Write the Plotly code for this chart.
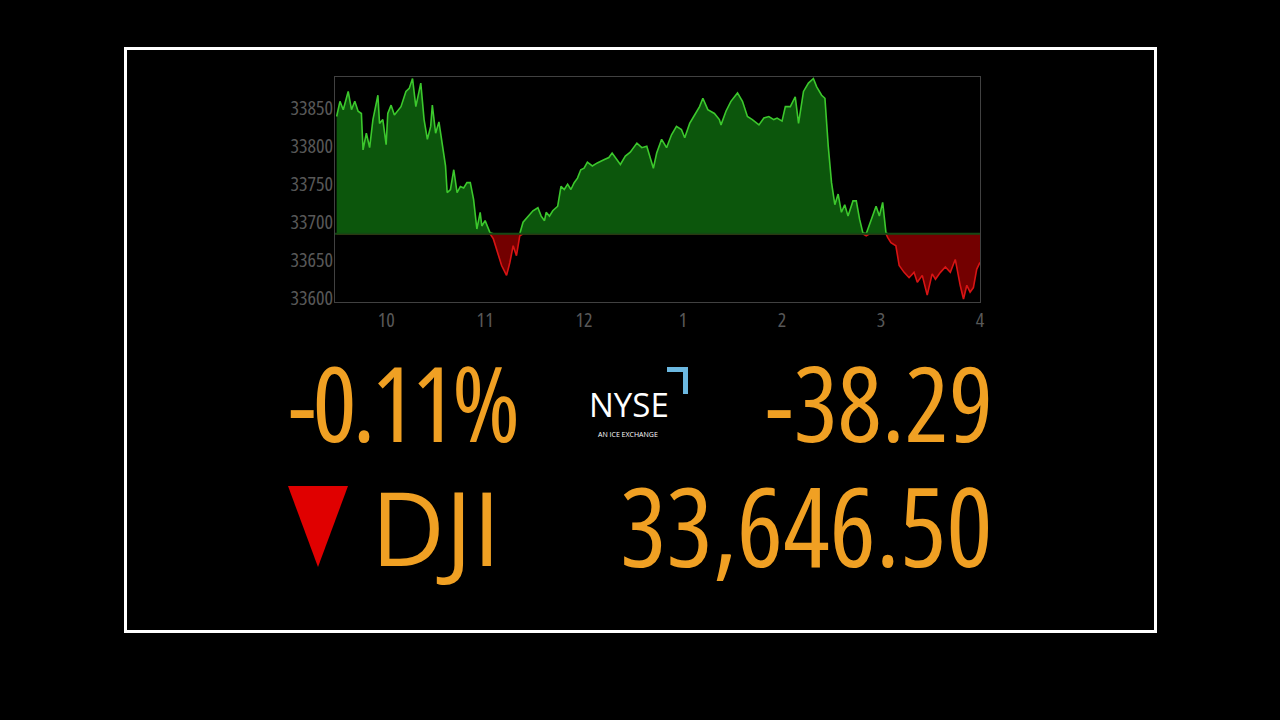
import numpy as np
import plotly.graph_objects as go

# ---- data ----
minutes = [0, 2, 4, 7, 9, 11, 13, 15, 16, 18, 20, 22, 25, 26, 28, 30, 31, 33, 35, 39, 42, 44, 46, 48, 51,
           53, 55, 57, 58, 60, 62, 64, 66, 67, 69, 71, 73, 75, 77, 79, 81, 83, 85, 87, 88, 90, 93, 95, 98,
           100, 103, 105, 107, 109, 111, 113, 116, 119, 122, 124, 126, 127, 129, 131, 134, 136, 138, 140,
           142, 144, 146, 148, 150, 152, 155, 158, 162, 165, 167, 169, 172, 175, 178,
           182, 185, 188, 190, 192, 194, 197, 200, 203, 206, 209, 211, 214, 217, 220, 222, 225, 229, 232,
           233, 236, 239, 243, 246, 249, 252, 256, 259, 262, 265, 267, 270, 272, 275, 278, 280, 283, 286,
           289, 291, 294, 296, 298, 300, 302, 304, 306, 308, 310, 313, 315, 317, 319, 321, 323, 325, 327,
           329, 331, 333, 334, 336, 339, 341, 344, 347, 350, 352, 355, 358, 361, 363, 366, 369, 372, 375,
           378, 380, 382, 384, 386, 388, 390]
dji = [33839, 33859, 33848, 33872, 33848, 33859, 33846, 33843, 33795, 33817, 33798, 33835, 33867, 33830,
       33835, 33802, 33843, 33854, 33841, 33852, 33872, 33876, 33889, 33852, 33883, 33835, 33809, 33826,
       33854, 33817, 33832, 33800, 33774, 33739, 33743, 33769, 33739, 33747, 33745, 33752, 33752, 33730,
       33691, 33713, 33695, 33702, 33686, 33678, 33656, 33643, 33630, 33647, 33669, 33656, 33682, 33700,
       33708, 33715, 33719, 33708, 33702, 33713, 33708, 33715, 33721, 33747, 33743, 33750, 33743, 33752,
       33758, 33769, 33771, 33779, 33774, 33778, 33782, 33785, 33791, 33785, 33776, 33787, 33792,
       33804, 33798, 33800, 33787, 33771, 33791, 33809, 33798, 33815, 33826, 33822, 33811, 33830, 33841,
       33852, 33863, 33848, 33843, 33835, 33828, 33846, 33859, 33870, 33859, 33839, 33835, 33828, 33837,
       33839, 33835, 33837, 33833, 33852, 33852, 33865, 33830, 33872, 33883, 33889, 33878, 33867, 33863,
       33800, 33752, 33723, 33737, 33713, 33723, 33708, 33728, 33728, 33704, 33686, 33682, 33697, 33708,
       33721, 33708, 33726, 33686, 33680, 33673, 33669, 33643, 33634, 33627, 33634, 33621, 33630, 33604,
       33632, 33625, 33634, 33641, 33634, 33651, 33617, 33599, 33617, 33608, 33614, 33638, 33647]
prev_close = 33684.79
tick_minutes = [30, 90, 150, 210, 270, 330, 390]
tick_labels = ["10", "11", "12", "1", "2", "3", "4"]
y_ticks = [33600, 33650, 33700, 33750, 33800, 33850]
y_tick_labels = ["33600", "33650", "33700", "33750", "33800", "33850"]
pct_text = "-0.11%"
chg_text = "-38.29"
sym_text = "DJI"
last_text = "33,646.50"

# ---- layout geometry (pixels) ----
W, H = 1280, 720
PX0, PX1, PY0, PY1 = 335, 980, 77, 302


def px(x):
    return (x - PX0) / (PX1 - PX0)


def py(y):
    return (PY1 - y) / (PY1 - PY0)


def narrow(s, pct=75, spacing=0):
    extra = f";letter-spacing:{spacing}px" if spacing else ""
    return f'<span style="font-stretch:{pct}%{extra}">{s}</span>'


ORANGE = "#F0A023"
FAM = "Open Sans, sans-serif"
TICK_GRAY = "rgb(88,88,88)"

v = np.array(dji, dtype=float)
upper = np.maximum(v, prev_close)
lower = np.minimum(v, prev_close)
base = np.full_like(v, prev_close)

fig = go.Figure()
fig.add_trace(go.Scatter(x=minutes, y=base, mode="lines", line=dict(width=0), hoverinfo="skip", showlegend=False))
fig.add_trace(go.Scatter(x=minutes, y=upper, mode="lines", fill="tonexty", fillcolor="rgb(12,86,12)",
                         line=dict(color="rgb(60,200,45)", width=1.6), showlegend=False))
fig.add_trace(go.Scatter(x=minutes, y=base, mode="lines", line=dict(width=0), hoverinfo="skip", showlegend=False))
fig.add_trace(go.Scatter(x=minutes, y=lower, mode="lines", fill="tonexty", fillcolor="rgb(115,0,0)",
                         line=dict(color="rgb(215,20,20)", width=1.6), showlegend=False))

shapes = [
    dict(type="line", xref="paper", yref="y", x0=0, x1=1, y0=prev_close, y1=prev_close,
         line=dict(color="rgb(20,72,20)", width=2), layer="above"),
    dict(type="rect", xref="paper", yref="paper", x0=px(125.5), x1=px(1155.5), y0=py(631.5), y1=py(48.5),
         line=dict(color="white", width=3), layer="above"),
    dict(type="path", xref="paper", yref="paper",
         path=f"M {px(288)} {py(486)} L {px(348)} {py(486)} L {px(318)} {py(567)} Z",
         fillcolor="#E00000", line=dict(width=0)),
    dict(type="path", xref="paper", yref="paper",
         path=(f"M {px(667)} {py(367)} L {px(688)} {py(367)} L {px(688)} {py(394)} L {px(683)} {py(394)} "
               f"L {px(683)} {py(372)} L {px(667)} {py(372)} Z"),
         fillcolor="#6BB8E0", line=dict(width=0)),
]

annotations = [
    dict(text=narrow(pct_text, 75, -4), x=px(286), y=py(401), xanchor="left", yanchor="middle",
         font=dict(family=FAM, size=104, color=ORANGE)),
    dict(text=narrow(chg_text), x=px(995), y=py(401), xanchor="right", yanchor="middle",
         font=dict(family=FAM, size=104, color=ORANGE)),
    dict(text=narrow(sym_text, 88), x=px(369), y=py(526), xanchor="left", yanchor="middle",
         font=dict(family=FAM, size=102, color=ORANGE)),
    dict(text=narrow(last_text, 75), x=px(995), y=py(524), xanchor="right", yanchor="middle",
         font=dict(family=FAM, size=109, color=ORANGE)),
    dict(text="NYSE", x=px(629), y=py(404), xanchor="center", yanchor="middle",
         font=dict(family=FAM, size=33, color="white")),
    dict(text="AN ICE EXCHANGE", x=px(628), y=py(434), xanchor="center", yanchor="middle",
         font=dict(family=FAM, size=7, color="white")),
]
for a in annotations:
    a.update(xref="paper", yref="paper", showarrow=False)

fig.update_layout(
    width=W, height=H, autosize=False,
    margin=dict(l=PX0, r=W - PX1, t=PY0, b=H - PY1, pad=0),
    paper_bgcolor="black", plot_bgcolor="black",
    showlegend=False, shapes=shapes, annotations=annotations,
    xaxis=dict(range=[-1, 390], tickvals=tick_minutes, ticktext=[narrow(t) for t in tick_labels],
               showgrid=False, zeroline=False,
               showline=True, mirror=True, linecolor="rgb(65,65,65)", linewidth=1, ticks="",
               tickfont=dict(family=FAM, size=20, color=TICK_GRAY)),
    yaxis=dict(range=[33595, 33891], tickvals=y_ticks, ticktext=[narrow(t) for t in y_tick_labels],
               showgrid=False, zeroline=False,
               showline=True, mirror=True, linecolor="rgb(65,65,65)", linewidth=1, ticks="",
               ticklabelstandoff=-3,
               tickfont=dict(family=FAM, size=20, color=TICK_GRAY)),
)

fig.write_html("out.html", config={"displayModeBar": False},
               post_script="document.body.style.margin='0';document.body.style.background='black';")
